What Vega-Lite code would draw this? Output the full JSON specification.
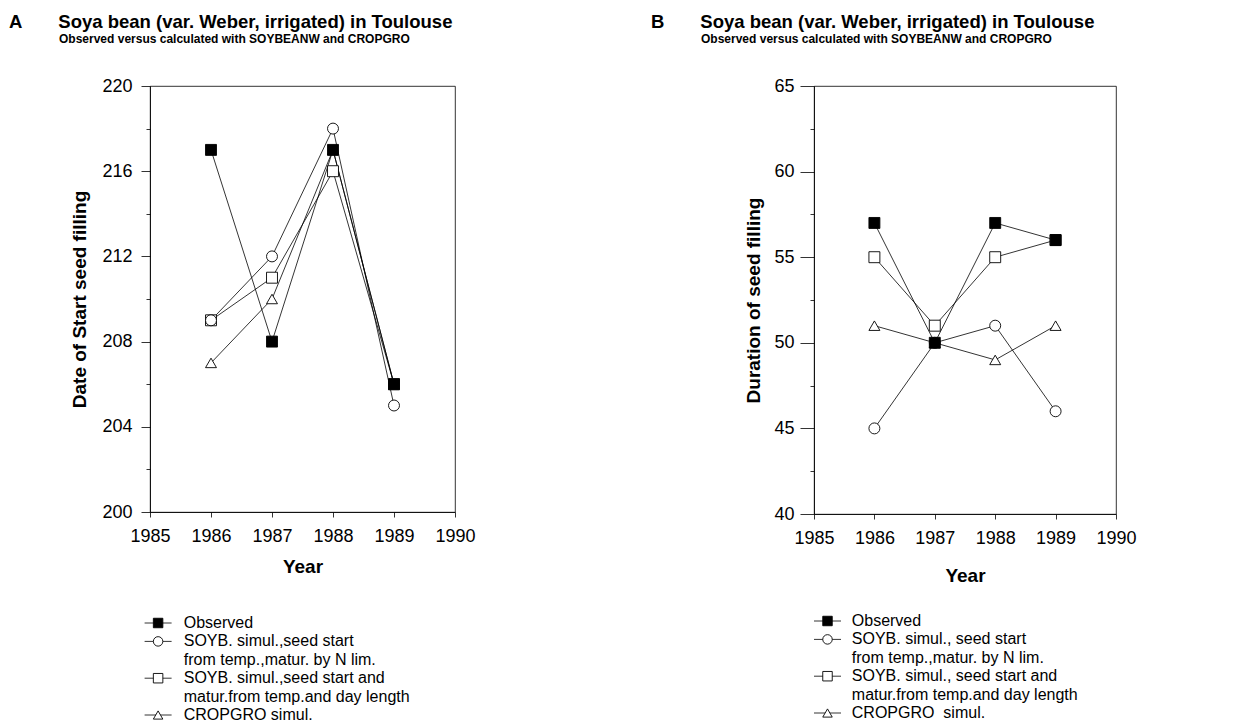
{
  "$schema": "https://vega.github.io/schema/vega-lite/v6.json",
  "padding": {"left": 8, "top": 12, "right": 5, "bottom": 5},
  "background": "white",
  "config": {
    "font": "Liberation Sans",
    "view": {"stroke": "black", "strokeWidth": 0.8},
    "axis": {"domainColor": "black", "domainWidth": 0.8, "tickColor": "black", "tickWidth": 0.8, "labelFont": "Liberation Sans", "labelFontSize": 18, "labelColor": "black", "titleFont": "Liberation Sans", "titleFontSize": 19, "titleFontWeight": "bold", "titleColor": "black", "grid": false},
    "axisX": {"tickSize": 5, "labelPadding": 10, "titlePadding": 12, "labelFlush": false},
    "axisY": {"labelPadding": 9, "titlePadding": 12},
    "title": {"font": "Liberation Sans", "color": "black", "subtitleColor": "black", "subtitleFont": "Liberation Sans"}
  },
  "datasets": {
    "a": [
      {"series": "CROPGRO", "year": 1986, "value": 207},
      {"series": "CROPGRO", "year": 1987, "value": 210},
      {"series": "CROPGRO", "year": 1988, "value": 217},
      {"series": "CROPGRO", "year": 1989, "value": 206},
      {"series": "SOYB day length", "year": 1986, "value": 209},
      {"series": "SOYB day length", "year": 1987, "value": 211},
      {"series": "SOYB day length", "year": 1988, "value": 216},
      {"series": "SOYB day length", "year": 1989, "value": 206},
      {"series": "SOYB N lim", "year": 1986, "value": 209},
      {"series": "SOYB N lim", "year": 1987, "value": 212},
      {"series": "SOYB N lim", "year": 1988, "value": 218},
      {"series": "SOYB N lim", "year": 1989, "value": 205},
      {"series": "Observed", "year": 1986, "value": 217},
      {"series": "Observed", "year": 1987, "value": 208},
      {"series": "Observed", "year": 1988, "value": 217},
      {"series": "Observed", "year": 1989, "value": 206}
    ],
    "b": [
      {"series": "CROPGRO", "year": 1986, "value": 51},
      {"series": "CROPGRO", "year": 1987, "value": 50},
      {"series": "CROPGRO", "year": 1988, "value": 49},
      {"series": "CROPGRO", "year": 1989, "value": 51},
      {"series": "SOYB day length", "year": 1986, "value": 55},
      {"series": "SOYB day length", "year": 1987, "value": 51},
      {"series": "SOYB day length", "year": 1988, "value": 55},
      {"series": "SOYB day length", "year": 1989, "value": 56},
      {"series": "SOYB N lim", "year": 1986, "value": 45},
      {"series": "SOYB N lim", "year": 1987, "value": 50},
      {"series": "SOYB N lim", "year": 1988, "value": 51},
      {"series": "SOYB N lim", "year": 1989, "value": 46},
      {"series": "Observed", "year": 1986, "value": 57},
      {"series": "Observed", "year": 1987, "value": 50},
      {"series": "Observed", "year": 1988, "value": 57},
      {"series": "Observed", "year": 1989, "value": 56}
    ],
    "legA": [
      {"line": 1, "series": "Observed", "sym": true, "text": "Observed"},
      {"line": 2, "series": "SOYB N lim", "sym": true, "text": "SOYB. simul.,seed start"},
      {"line": 3, "series": "SOYB N lim", "sym": false, "text": "from temp.,matur. by N lim."},
      {"line": 4, "series": "SOYB day length", "sym": true, "text": "SOYB. simul.,seed start and"},
      {"line": 5, "series": "SOYB day length", "sym": false, "text": "matur.from temp.and day length"},
      {"line": 6, "series": "CROPGRO", "sym": true, "text": "CROPGRO simul."}
    ],
    "legB": [
      {"line": 1, "series": "Observed", "sym": true, "text": "Observed"},
      {"line": 2, "series": "SOYB N lim", "sym": true, "text": "SOYB. simul., seed start"},
      {"line": 3, "series": "SOYB N lim", "sym": false, "text": "from temp.,matur. by N lim."},
      {"line": 4, "series": "SOYB day length", "sym": true, "text": "SOYB. simul., seed start and"},
      {"line": 5, "series": "SOYB day length", "sym": false, "text": "matur.from temp.and day length"},
      {"line": 6, "series": "CROPGRO", "sym": true, "text": "CROPGRO\u00a0 simul."}
    ]
  },
  "spacing": 174,
  "hconcat": [
    {
      "spacing": 38,
      "vconcat": [
        {
          "width": 305,
          "height": 426,
          "title": {
            "text": "A\u00a0\u00a0\u00a0\u00a0\u00a0\u00a0\u00a0Soya bean (var. Weber, irrigated) in Toulouse",
            "subtitle": "\u200b\u00a0\u00a0\u00a0\u00a0\u00a0\u00a0\u00a0\u00a0\u00a0\u00a0\u00a0\u00a0\u00a0\u00a0\u00a0Observed versus calculated with SOYBEANW and CROPGRO",
            "anchor": "start", "frame": "group", "dx": -141, "offset": 32,
            "fontSize": 18.5, "fontWeight": "bold", "subtitleFontSize": 12, "subtitleFontWeight": "bold", "subtitlePadding": 3
          },
          "data": {"name": "a"},
          "encoding": {
            "x": {"field": "year", "type": "quantitative", "title": "Year",
                  "scale": {"domain": [1985, 1990], "nice": false, "zero": false},
                  "axis": {"values": [1985, 1986, 1987, 1988, 1989, 1990], "format": "d"}},
            "y": {"field": "value", "type": "quantitative", "title": "Date of Start seed filling",
                  "scale": {"domain": [200, 220], "nice": false, "zero": false},
                  "axis": {"values": [200, 202, 204, 206, 208, 210, 212, 214, 216, 218, 220],
                           "labelExpr": "datum.value % 4 === 0 ? datum.label : ''",
                           "tickSize": {"condition": {"test": "datum.value % 4 !== 0", "value": 4}, "value": 9}}}
          },
          "layer": [
            {"mark": {"type": "line", "color": "black", "strokeWidth": 0.8},
             "encoding": {"detail": {"field": "series"}}},
            {"mark": {"type": "point", "filled": true, "stroke": "black", "strokeWidth": 0.9, "size": 120, "opacity": 1},
             "encoding": {
               "shape": {"field": "series", "scale": {"domain": ["CROPGRO", "SOYB day length", "SOYB N lim", "Observed"], "range": ["triangle-up", "square", "circle", "square"]}, "legend": null},
               "fill": {"field": "series", "scale": {"domain": ["CROPGRO", "SOYB day length", "SOYB N lim", "Observed"], "range": ["white", "white", "white", "black"]}, "legend": null}
             }}
          ]
        },
        {
          "width": 270,
          "height": 92,
          "view": {"stroke": null},
          "data": {"name": "legA"},
          "encoding": {
            "y": {"field": "line", "type": "ordinal", "scale": {"type": "point", "padding": 0}, "axis": null}
          },
          "layer": [
            {"transform": [{"filter": "datum.sym"}],
             "mark": {"type": "rule", "color": "black", "strokeWidth": 0.8},
             "encoding": {"x": {"datum": -0.2, "scale": {"domain": [0, 10]}, "axis": null}, "x2": {"datum": 0.8}}},
            {"transform": [{"filter": "datum.sym"}],
             "mark": {"type": "point", "filled": true, "stroke": "black", "strokeWidth": 0.9, "size": 90, "opacity": 1},
             "encoding": {
               "x": {"datum": 0.3},
               "shape": {"field": "series", "scale": {"domain": ["CROPGRO", "SOYB day length", "SOYB N lim", "Observed"], "range": ["triangle-up", "square", "circle", "square"]}, "legend": null},
               "fill": {"field": "series", "scale": {"domain": ["CROPGRO", "SOYB day length", "SOYB N lim", "Observed"], "range": ["white", "white", "white", "black"]}, "legend": null}
             }},
            {"mark": {"type": "text", "align": "left", "baseline": "middle", "fontSize": 16, "color": "black", "font": "Liberation Sans"},
             "encoding": {"x": {"datum": 1.25}, "text": {"field": "text"}}}
          ]
        }
      ]
    },
    {
      "spacing": 27,
      "vconcat": [
        {
          "width": 302,
          "height": 428,
          "title": {
            "text": "B\u00a0\u00a0\u00a0\u00a0\u00a0\u00a0\u00a0Soya bean (var. Weber, irrigated) in Toulouse",
            "subtitle": "\u200b\u00a0\u00a0\u00a0\u00a0\u00a0\u00a0\u00a0\u00a0\u00a0\u00a0\u00a0\u00a0\u00a0\u00a0\u00a0Observed versus calculated with SOYBEANW and CROPGRO",
            "anchor": "start", "frame": "group", "dx": -163, "offset": 32,
            "fontSize": 18.5, "fontWeight": "bold", "subtitleFontSize": 12, "subtitleFontWeight": "bold", "subtitlePadding": 3
          },
          "data": {"name": "b"},
          "encoding": {
            "x": {"field": "year", "type": "quantitative", "title": "Year",
                  "scale": {"domain": [1985, 1990], "nice": false, "zero": false},
                  "axis": {"values": [1985, 1986, 1987, 1988, 1989, 1990], "format": "d", "titlePadding": 19}},
            "y": {"field": "value", "type": "quantitative", "title": "Duration of seed filling",
                  "scale": {"domain": [40, 65], "nice": false, "zero": false},
                  "axis": {"values": [40, 42.5, 45, 47.5, 50, 52.5, 55, 57.5, 60, 62.5, 65],
                           "labelExpr": "datum.value % 5 === 0 ? datum.label : ''",
                           "labelPadding": 6, "titlePadding": 10,
                           "tickSize": {"condition": {"test": "datum.value % 5 !== 0", "value": 4}, "value": 14}}}
          },
          "layer": [
            {"mark": {"type": "line", "color": "black", "strokeWidth": 0.8},
             "encoding": {"detail": {"field": "series"}}},
            {"mark": {"type": "point", "filled": true, "stroke": "black", "strokeWidth": 0.9, "size": 120, "opacity": 1},
             "encoding": {
               "shape": {"field": "series", "scale": {"domain": ["CROPGRO", "SOYB day length", "SOYB N lim", "Observed"], "range": ["triangle-up", "square", "circle", "square"]}, "legend": null},
               "fill": {"field": "series", "scale": {"domain": ["CROPGRO", "SOYB day length", "SOYB N lim", "Observed"], "range": ["white", "white", "white", "black"]}, "legend": null}
             }}
          ]
        },
        {
          "width": 270,
          "height": 92,
          "view": {"stroke": null},
          "data": {"name": "legB"},
          "encoding": {
            "y": {"field": "line", "type": "ordinal", "scale": {"type": "point", "padding": 0}, "axis": null}
          },
          "layer": [
            {"transform": [{"filter": "datum.sym"}],
             "mark": {"type": "rule", "color": "black", "strokeWidth": 0.8},
             "encoding": {"x": {"datum": 0.0, "scale": {"domain": [0, 10]}, "axis": null}, "x2": {"datum": 1.0}}},
            {"transform": [{"filter": "datum.sym"}],
             "mark": {"type": "point", "filled": true, "stroke": "black", "strokeWidth": 0.9, "size": 90, "opacity": 1},
             "encoding": {
               "x": {"datum": 0.5},
               "shape": {"field": "series", "scale": {"domain": ["CROPGRO", "SOYB day length", "SOYB N lim", "Observed"], "range": ["triangle-up", "square", "circle", "square"]}, "legend": null},
               "fill": {"field": "series", "scale": {"domain": ["CROPGRO", "SOYB day length", "SOYB N lim", "Observed"], "range": ["white", "white", "white", "black"]}, "legend": null}
             }},
            {"mark": {"type": "text", "align": "left", "baseline": "middle", "fontSize": 16, "color": "black", "font": "Liberation Sans"},
             "encoding": {"x": {"datum": 1.4}, "text": {"field": "text"}}}
          ]
        }
      ]
    }
  ]
}
